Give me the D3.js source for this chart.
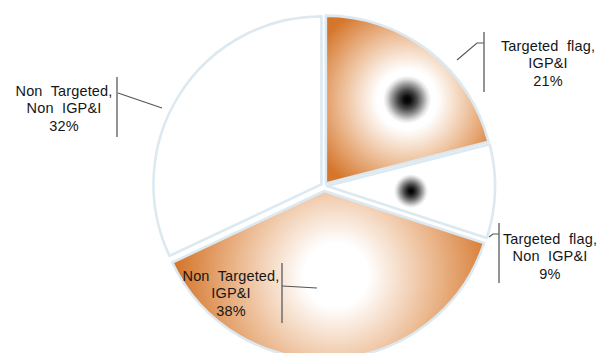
<!DOCTYPE html>
<html><head><meta charset="utf-8">
<script src="https://cdn.jsdelivr.net/npm/d3@7"></script>
<style>html,body{margin:0;padding:0;background:#fff;overflow:hidden} svg{display:block}</style>
</head><body>
<svg id="chart" width="599" height="353"></svg>
<script>
// ---- data ----
const categories = ["Targeted flag, IGP&I", "Targeted flag, Non IGP&I", "Non Targeted, IGP&I", "Non Targeted, Non IGP&I"];
const values = [21, 9, 38, 32];
const labelLines = [["Targeted  flag,", "IGP&I"], ["Targeted  flag,", "Non  IGP&I"], ["Non  Targeted,", "IGP&I"], ["Non  Targeted,", "Non  IGP&I"]];

// ---- style / layout ----
const W = 599, H = 353;
const cx = 324, cy = 186, R = 168;
const explode = [3, 3, 5, 3];
const ORANGE = "#d5762c";
const MID = "#ecbb93";
const baseFill = [ORANGE, "#ffffff", ORANGE, "#ffffff"];
const blobR = [24, 17, 0, 0];      // px radius of dark centre spot
const coreR = [30, 0, 32, 0];      // px radius of white core
const fullAt = [0.88, 1, 0.9, 1];  // gradient offset where base colour is reached
const labelLayout = [
  {x: 548, y: 51,  bar: [484, 32, 92],   leader: [[457, 60], [477, 43], [484, 43]]},
  {x: 550, y: 244, bar: [499, 223, 283], leader: [[489, 237], [493, 234], [499, 234]]},
  {x: 231, y: 281, bar: [282, 263, 323], leader: [[317, 288], [282, 286]]},
  {x: 64,  y: 96,  bar: [117, 77, 137],  leader: [[162, 108], [118, 93]]}
];

const svg = d3.select("#chart");
const defs = svg.append("defs");

const pie = d3.pie().sort(null).value(d => d).startAngle(0).endAngle(2 * Math.PI);
const arcs = pie(values);
const arc = d3.arc().innerRadius(0).outerRadius(R);

const g = svg.append("g").attr("transform", `translate(${cx},${cy})`);

const slices = g.selectAll("path.slice").data(arcs).join("path")
  .attr("class", "slice")
  .attr("d", arc)
  .attr("transform", (d, i) => {
    const a = (d.startAngle + d.endAngle) / 2;
    return `translate(${Math.sin(a) * explode[i]},${-Math.cos(a) * explode[i]})`;
  })
  .attr("stroke", "#dde9f1")
  .attr("stroke-width", 2.6)
  .attr("stroke-linejoin", "round");

slices.each(function (d, i) {
  const bb = this.getBBox();
  const gx = bb.x + bb.width / 2 + (i === 2 ? 8 : 0), gy = bb.y + bb.height / 2;
  const gr = Math.sqrt(bb.width * bb.width + bb.height * bb.height) / 2;
  const grad = defs.append("radialGradient")
    .attr("id", "grad" + i)
    .attr("gradientUnits", "userSpaceOnUse")
    .attr("cx", gx).attr("cy", gy).attr("r", gr);
  const stops = [];
  if (blobR[i] > 0) {
    const b = blobR[i] / gr;
    stops.push([0, "#000000"], [b * 0.15, "#0d0d0d"], [b * 0.4, "#4a4a4a"], [b * 0.65, "#9a9a9a"], [b * 0.85, "#dedede"], [b, "#ffffff"]);
  } else {
    stops.push([0, "#ffffff"]);
  }
  if (coreR[i] > 0) {
    const c = coreR[i] / gr;
    stops.push([c, "#ffffff"]);
    stops.push([c + (fullAt[i] - c) * 0.5, MID]);
  }
  stops.push([fullAt[i], baseFill[i]]);
  stops.push([1, baseFill[i]]);
  stops.forEach(s => grad.append("stop").attr("offset", s[0]).attr("stop-color", s[1]));
  d3.select(this).attr("fill", `url(#grad${i})`);
});

// ---- labels ----
const lab = svg.append("g").attr("class", "labels");
const line = d3.line();
labelLayout.forEach((L, i) => {
  lab.append("path").attr("d", line(L.leader))
    .attr("fill", "none").attr("stroke", "#555").attr("stroke-width", 1.1);
  lab.append("line")
    .attr("x1", L.bar[0]).attr("x2", L.bar[0])
    .attr("y1", L.bar[1]).attr("y2", L.bar[2])
    .attr("stroke", "#666").attr("stroke-width", 1.4);
  const t = lab.append("text")
    .attr("x", L.x).attr("y", L.y)
    .attr("text-anchor", "middle")
    .attr("font-family", "'Liberation Sans', Arial, sans-serif")
    .attr("font-size", 14.5)
    .attr("letter-spacing", 0.15)
    .attr("fill", "#161616")
    .style("white-space", "pre");
  const lines = labelLines[i].concat([values[i] + "%"]);
  lines.forEach((s, k) => {
    t.append("tspan").attr("x", L.x).attr("dy", k === 0 ? 0 : 17.3).text(s);
  });
});
</script>
</body></html>
